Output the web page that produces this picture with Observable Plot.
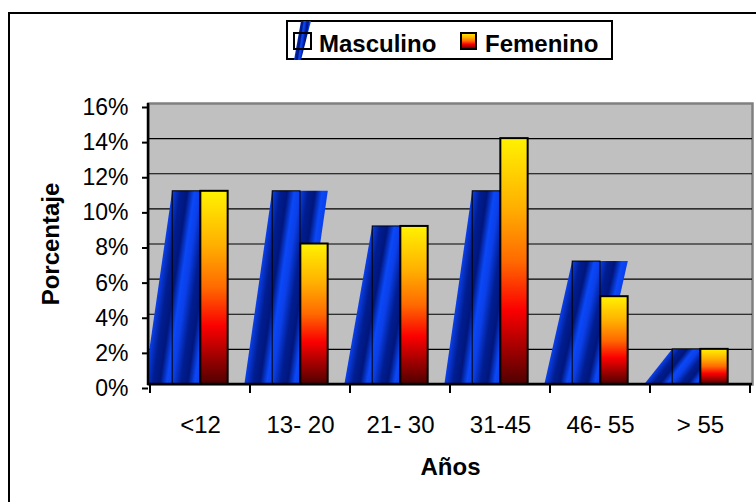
<!DOCTYPE html>
<html><head><meta charset="utf-8">
<script src="https://cdn.jsdelivr.net/npm/d3@7"></script>
<script src="https://cdn.jsdelivr.net/npm/@observablehq/plot@0.6"></script>
<style>
html,body{margin:0;padding:0;background:#fff;}
#wrap{position:relative;width:756px;height:502px;overflow:hidden;font-family:"Liberation Sans",Arial,sans-serif;}
#chart{position:absolute;left:0;top:0;}
#outer{position:absolute;left:8px;top:12px;width:900px;height:900px;border:2px solid #000;box-sizing:border-box;}
#legend{position:absolute;left:286px;top:20px;width:327px;height:40px;border:2px solid #000;background:#fff;box-sizing:border-box;}
#legend svg{position:absolute;left:-2px;top:-2px;overflow:visible;}
</style></head>
<body><div id="wrap"><div id="outer"></div><div id="chart"></div><div id="legend"></div></div>
<script>
// ---- data ----
const categories = ["<12", "13- 20", "21- 30", "31-45", "46- 55", "> 55"];
const masculino = [11, 11, 9, 11, 7, 2];
const femenino = [11, 8, 9, 14, 5, 2];
const yTicks = [0, 2, 4, 6, 8, 10, 12, 14, 16];
const seriesNames = ["Masculino", "Femenino"];

const rows = categories.map((cat, i) => ({cat, masc: masculino[i], fem: femenino[i]}));

// ---- layout ----
const W = 756, H = 502;
const mL = 148, mR = 4, mT = 103, mB = 118;
const BAR_FRAC = 0.278;
const bw = (W - mL - mR) / categories.length;
const bar = bw * BAR_FRAC;

// gradients
function defsMark() {
  const defs = d3.create("svg:defs");
  const fg = defs.append("linearGradient").attr("id", "femGrad")
    .attr("x1", 0).attr("y1", 0).attr("x2", 0).attr("y2", 1);
  [[0, "#fff200"], [0.28, "#ffb000"], [0.5, "#ff6a00"], [0.7, "#fb0000"], [1, "#500000"]]
    .forEach(([o, c]) => fg.append("stop").attr("offset", o).attr("stop-color", c));
  const mg = defs.append("linearGradient").attr("id", "mascGrad")
    .attr("x1", 0).attr("y1", 0).attr("x2", 0.3).attr("y2", 0.1).attr("spreadMethod", "repeat");
  [[0, "#0b3fe8"], [0.3, "#001d90"], [0.55, "#00167c"], [0.8, "#0a48f8"], [1, "#0b3fe8"]]
    .forEach(([o, c]) => mg.append("stop").attr("offset", o).attr("stop-color", c));
  return defs.node();
}

// masculino slanted bars, drawn from the plot's scales
function mascMark(index, scales, values, dims) {
  const g = d3.create("svg:g");
  const x = scales.x, y = scales.y;
  const b = x.bandwidth ? x.bandwidth() : bw;
  const w = b * BAR_FRAC;
  g.append("clipPath").attr("id", "plotClip").append("rect")
    .attr("x", dims.marginLeft).attr("y", dims.marginTop)
    .attr("width", dims.width - dims.marginLeft - dims.marginRight)
    .attr("height", dims.height - dims.marginTop - dims.marginBottom);
  const inner = g.append("g").attr("clip-path", "url(#plotClip)");
  for (const r of rows) {
    const c = x(r.cat) + b / 2;
    const yb = y(0), yt = y(r.masc);
    inner.append("path")
      .attr("d", `M${c - 2 * w},${yb}L${c},${yb}L${c + w},${yt}L${c - w},${yt}Z`)
      .attr("fill", "url(#mascGrad)");
    inner.append("rect").attr("x", c - w).attr("y", yt).attr("width", w).attr("height", yb - yt)
      .attr("fill", "none").attr("stroke", "#000").attr("stroke-width", 1);
  }
  return g.node();
}

// axis lines + boundary ticks
function axisLines(index, scales, values, dims) {
  const g = d3.create("svg:g").attr("stroke", "#000");
  const x = scales.x, y = scales.y;
  const b = x.bandwidth ? x.bandwidth() : bw;
  const y0 = y(0);
  g.append("line").attr("x1", dims.marginLeft).attr("x2", dims.marginLeft)
    .attr("y1", y(16)).attr("y2", y0 + 1).attr("stroke-width", 2.5);
  g.append("line").attr("x1", dims.marginLeft).attr("x2", dims.width - dims.marginRight)
    .attr("y1", y0).attr("y2", y0).attr("stroke-width", 2.5);
  const bounds = categories.map(c => x(c)).concat([x(categories[categories.length - 1]) + b]);
  for (const bx of bounds) {
    g.append("line").attr("x1", bx).attr("x2", bx).attr("y1", y0).attr("y2", y0 + 9).attr("stroke-width", 2);
  }
  return g.node();
}

const chart = Plot.plot({
  width: W, height: H,
  marginLeft: mL, marginRight: mR, marginTop: mT, marginBottom: mB,
  style: {background: "transparent", fontFamily: "'Liberation Sans', Arial, sans-serif", color: "#000", overflow: "visible"},
  x: {domain: categories, padding: 0, axis: null},
  y: {domain: [0, 16], axis: null},
  marks: [
    defsMark,
    Plot.frame({fill: "#c0c0c0", stroke: "#808080", strokeWidth: 2.5}),
    Plot.ruleY(yTicks.filter(t => t > 0 && t < 16), {stroke: "#000", strokeWidth: 1.2}),
    mascMark,
    Plot.barY(rows, {x: "cat", y: "fem", fill: "url(#femGrad)", stroke: "#000", strokeWidth: 2,
      insetLeft: bw / 2, insetRight: bw / 2 - bar}),
    axisLines,
    Plot.axisY(yTicks, {tickFormat: d => d + "%", tickSize: 6, tickPadding: 14, fontSize: 23, dy: 4,
      strokeWidth: 2, label: null}),
    Plot.axisX({tickSize: 0, tickPadding: 31, fontSize: 24, label: null}),
    Plot.text(["Porcentaje"], {frameAnchor: "left", textAnchor: "middle", lineAnchor: "middle",
      rotate: -90, dx: -97, fontSize: 24, fontWeight: "bold"}),
    Plot.text(["Años"], {frameAnchor: "bottom", textAnchor: "middle", lineAnchor: "middle",
      dy: 83, fontSize: 24, fontWeight: "bold"})
  ]
});
document.getElementById("chart").appendChild(chart);

// ---- legend ----
const lg = d3.select("#legend").append("svg").attr("width", 327).attr("height", 40);
lg.append("path").attr("d", "M15,1L25,1L15,40L8,40Z").attr("fill", "url(#mascGrad)");
lg.append("rect").attr("x", 8).attr("y", 13).attr("width", 17).attr("height", 16)
  .attr("fill", "none").attr("stroke", "#000").attr("stroke-width", 2);
lg.append("text").attr("x", 33).attr("y", 32).attr("font-size", 24).attr("font-weight", "bold")
  .attr("font-family", "'Liberation Sans', Arial, sans-serif").text(seriesNames[0]);
lg.append("rect").attr("x", 175).attr("y", 13).attr("width", 15).attr("height", 16)
  .attr("fill", "url(#femGrad)").attr("stroke", "#000").attr("stroke-width", 2);
lg.append("text").attr("x", 199).attr("y", 32).attr("font-size", 24).attr("font-weight", "bold")
  .attr("font-family", "'Liberation Sans', Arial, sans-serif").text(seriesNames[1]);
</script>
</body></html>
